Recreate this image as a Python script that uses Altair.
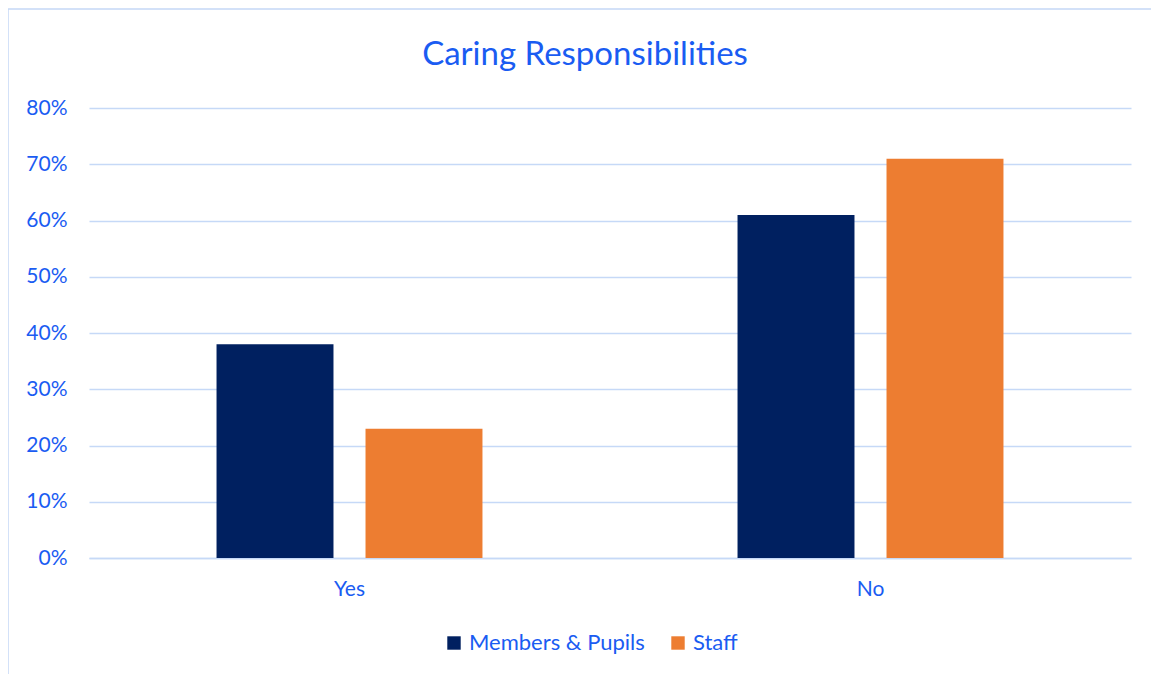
import altair as alt
import pandas as pd

categories = ["Yes", "No"]
groups = ["Members & Pupils", "Staff"]
members_pupils = [0.38, 0.61]
staff = [0.23, 0.71]

rows = []
for i, c in enumerate(categories):
    rows.append({"Answer": c, "Group": groups[0], "Value": members_pupils[i]})
    rows.append({"Answer": c, "Group": groups[1], "Value": staff[i]})
df = pd.DataFrame(rows)

TEXT = "#1A5CF2"
GRID = "#C6D9F7"
FONT = "Lato"

bars = alt.Chart(df).mark_bar().encode(
    x=alt.X("Answer:N", sort=categories,
            scale=alt.Scale(paddingInner=0, paddingOuter=0),
            axis=alt.Axis(title=None, labelAngle=0, ticks=False, domain=True,
                          domainColor=GRID, domainWidth=1.5, labelPadding=20,
                          labelFontSize=21, labelColor=TEXT, labelFont=FONT)),
    xOffset=alt.XOffset("Group:N", sort=groups,
                        scale=alt.Scale(paddingInner=0.215, paddingOuter=0.856)),
    y=alt.Y("Value:Q", scale=alt.Scale(domain=[0, 0.8]),
            axis=alt.Axis(title=None, format=".0%", values=[i / 10 for i in range(9)],
                          ticks=False, domain=False, grid=True, gridColor=GRID,
                          gridWidth=1.5, labelPadding=22, labelFontSize=21,
                          labelColor=TEXT, labelFont=FONT)),
    color=alt.Color("Group:N", sort=groups,
                    scale=alt.Scale(domain=groups, range=["#002060", "#ED7D31"]),
                    legend=alt.Legend(title=None, orient="none", legendX=354, legendY=524,
                                      direction="horizontal", symbolType="square",
                                      symbolSize=180, symbolStrokeWidth=0,
                                      labelFontSize=22, labelColor=TEXT, labelFont=FONT,
                                      labelLimit=400, columnPadding=22, labelOffset=4)),
)

frame = alt.Chart(pd.DataFrame({"k": [0]})).mark_rect(
    fill=None, stroke="#C5D8F6", strokeWidth=1.5, clip=False
).encode(x=alt.value(-81), x2=alt.value(1075), y=alt.value(-99), y2=alt.value(620))

chart = alt.layer(frame, bars).properties(
    width=1042, height=450,
    background="white",
    title=alt.TitleParams("Caring Responsibilities", fontSize=33, font=FONT,
                          fontWeight="normal", color=TEXT, dx=-25, offset=-64,
                          frame="group"),
    padding={"left": 81, "top": 100, "right": 20, "bottom": 116},
    autosize=alt.AutoSizeParams(type="none"),
).configure_view(strokeWidth=0, stroke="transparent")

chart.save("out.html", embed_options={"renderer": "svg", "actions": False})
